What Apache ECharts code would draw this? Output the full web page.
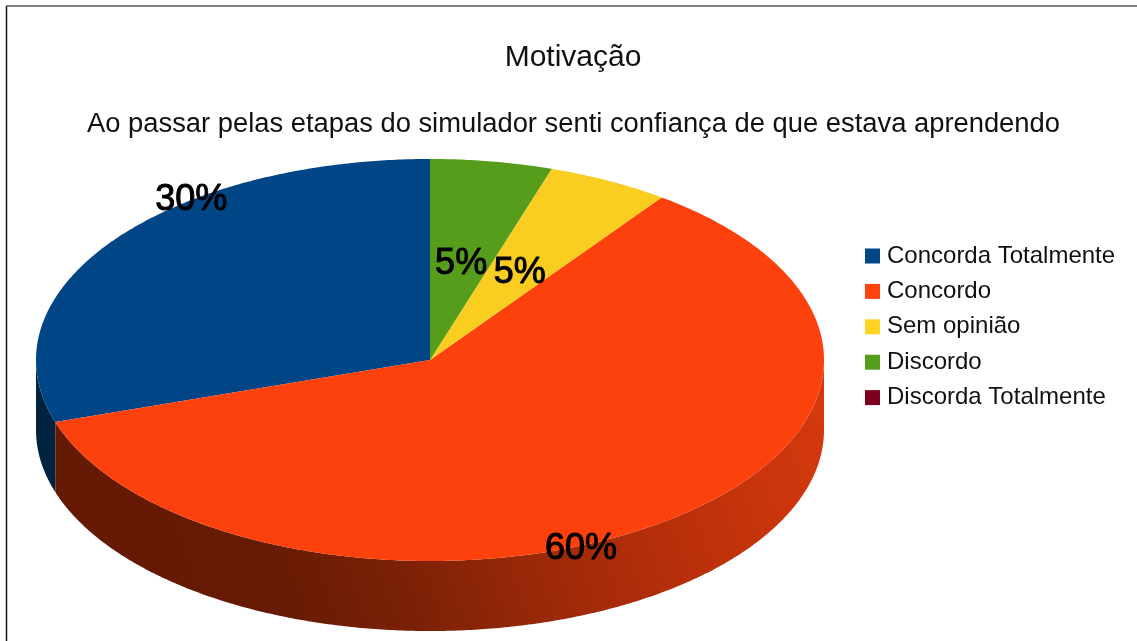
<!DOCTYPE html>
<html><head><meta charset="utf-8">
<style>html,body{margin:0;padding:0;background:#fff}#c{width:1137px;height:641px}</style>
<script src="https://cdn.jsdelivr.net/npm/echarts@6/dist/echarts.min.js"></script>
</head><body><div id="c"></div>
<script>
const chartTitle = 'Motivação';
const chartSubtitle = 'Ao passar pelas etapas do simulador senti confiança de que estava aprendendo';
const categories = ['Concorda Totalmente', 'Concordo', 'Sem opinião', 'Discordo', 'Discorda Totalmente'];
const percentValues = [30, 60, 5, 5, 0];

const legendColors = ['#004586', '#ff420e', '#ffd320', '#579d1c', '#7e0021'];
const topColors = ['#004586', '#fd410d', '#f9ce20', '#579d1c', '#7e0021'];
const FONT = '"Liberation Sans", Arial, sans-serif';
const CX = 430, CY = 360, RX = 394, RY = 201, DEPTH = 70;
// label centres as fractions of the ellipse radii
const labelAnchors = [[-0.606, -0.796], [0.383, 0.94], [0.228, -0.433], [0.079, -0.478], [0, 0]];

const total = percentValues.reduce((a, b) => a + b, 0);
const rimPoint = (deg, drop) => {
  const t = deg * Math.PI / 180;
  return [CX + RX * Math.sin(t), CY - RY * Math.cos(t) + drop];
};
const sideFill = i => {
  if (i === 0) return '#00233f';
  if (i === 1) return new echarts.graphic.LinearGradient(0, 1, 1, 0, [
    { offset: 0, color: '#641904' }, { offset: 0.27, color: '#671a04' },
    { offset: 0.42, color: '#7a2106' }, { offset: 0.55, color: '#952708' },
    { offset: 0.72, color: '#b32e0a' }, { offset: 0.9, color: '#cc360d' },
    { offset: 1, color: '#d6390e' }]);
  return '#333';
};

function renderSlice(params, api) {
  const i = params.seriesIndex;
  const value = api.value(0);
  const children = [];
  if (value <= 0) return { type: 'group', children };
  const before = percentValues.slice(0, i).reduce((a, b) => a + b, 0);
  // slices run counter-clockwise from 12 o'clock
  const end = 360 - before / total * 360;
  const start = end - value / total * 360;
  const top = [[CX, CY]];
  for (let d = start; d < end; d += 0.5) top.push(rimPoint(d, 0));
  top.push(rimPoint(end, 0));
  const from = Math.max(start, 90), to = Math.min(end, 270);
  if (from < to) {
    const upper = [], lower = [];
    for (let d = from; d < to; d += 0.5) { upper.push(rimPoint(d, 0)); lower.push(rimPoint(d, DEPTH)); }
    upper.push(rimPoint(to, 0)); lower.push(rimPoint(to, DEPTH));
    children.push({ type: 'polygon', shape: { points: upper.concat(lower.reverse()) }, style: { fill: sideFill(i) } });
  }
  children.push({ type: 'polygon', shape: { points: top }, style: { fill: topColors[i] } });
  return { type: 'group', children };
}

function renderLabel(params, api) {
  const i = params.dataIndex;
  const value = api.value(0);
  if (value <= 0) return { type: 'group', children: [] };
  return {
    type: 'text',
    x: CX + labelAnchors[i][0] * RX,
    y: CY + labelAnchors[i][1] * RY,
    style: {
      text: value + '%', font: '36px ' + FONT, fill: '#000',
      stroke: '#000', lineWidth: 1, align: 'center', verticalAlign: 'middle'
    }
  };
}

const series = categories.map((name, i) => ({
  name, type: 'custom', coordinateSystem: 'none', silent: true,
  itemStyle: { color: legendColors[i] },
  renderItem: renderSlice,
  data: [[percentValues[i]]]
}));
series.push({
  type: 'custom', coordinateSystem: 'none', silent: true, z: 5,
  renderItem: renderLabel,
  data: percentValues.map(v => [v])
});

const chart = echarts.init(document.getElementById('c'), null, { renderer: 'canvas' });
chart.setOption({
  animation: false,
  backgroundColor: '#fff',
  title: [
    { text: chartTitle, left: 568, top: 38, textAlign: 'center',
      textStyle: { fontFamily: FONT, fontSize: 30, fontWeight: 'normal', color: '#111' } },
    { text: chartSubtitle, left: 568.5, top: 105.5, textAlign: 'center',
      textStyle: { fontFamily: FONT, fontSize: 27.35, fontWeight: 'normal', color: '#111' } }
  ],
  legend: {
    orient: 'vertical', left: 860, top: 239,
    itemWidth: 15, itemHeight: 15, itemGap: 11.4, icon: 'rect',
    data: categories,
    selectedMode: false,
    textStyle: { fontFamily: FONT, fontSize: 24, color: '#111', padding: [0, 0, 0, 2] }
  },
  graphic: [
    { type: 'line', shape: { x1: 6.5, y1: 6, x2: 6.5, y2: 641 }, style: { stroke: '#111', lineWidth: 1.5 } },
    { type: 'line', shape: { x1: 6, y1: 6, x2: 1137, y2: 6 }, style: { stroke: '#555', lineWidth: 1.5 } }
  ],
  series
});
</script></body></html>
